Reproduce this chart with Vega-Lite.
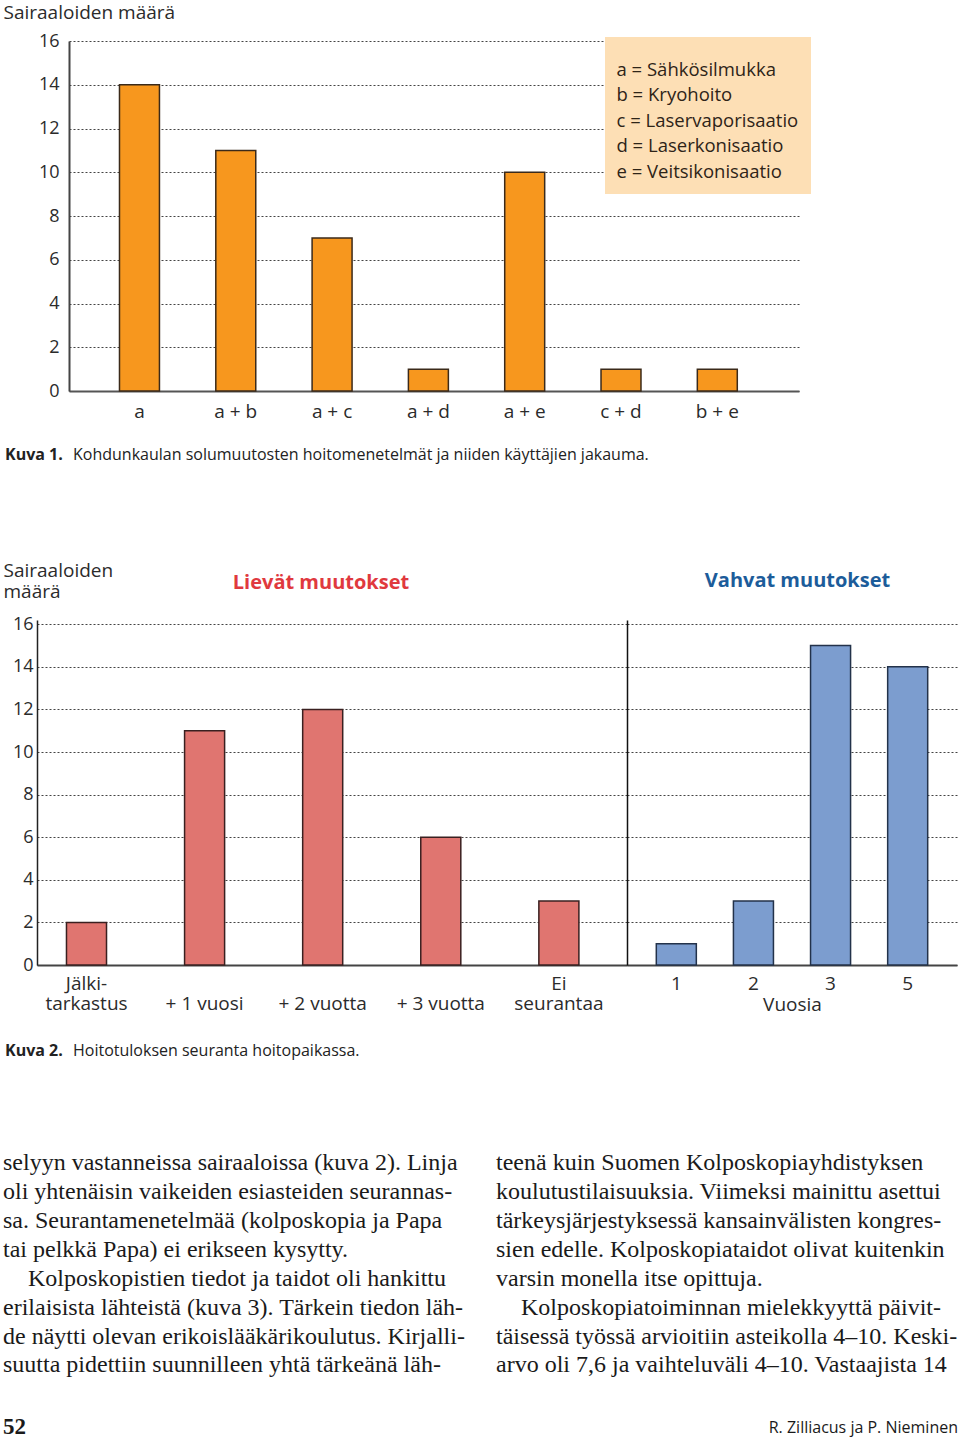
{
  "$schema": "https://vega.github.io/schema/vega-lite/v6.json",
  "background": "white",
  "padding": {"left": 3, "top": 3, "right": 0, "bottom": 0},
  "spacing": 0,
  "columns": 1,
  "config": {
    "view": {"stroke": null},
    "font": "Open Sans",
    "axis": {
      "labelFont": "Open Sans", "titleFont": "Open Sans",
      "labelColor": "#2b2b2b", "titleColor": "#2b2b2b",
      "titleFontWeight": "normal", "ticks": false,
      "labelFontSize": 19, "titleFontSize": 19,
      "gridColor": "#444", "gridDash": [2, 2], "gridWidth": 1, "gridOpacity": 1,
      "domainColor": "#444", "domainWidth": 2
    }
  },
  "concat": [
    {
      "bounds": "flush",
      "spacing": 0,
      "hconcat": [
        {"width": 66, "height": 10, "data": {"values": []}, "mark": "point"},
        {
          "width": 730, "height": 350,
          "layer": [
            {
              "data": {"values": [
                {"hoito": "a", "maara": 14},
                {"hoito": "a + b", "maara": 11},
                {"hoito": "a + c", "maara": 7},
                {"hoito": "a + d", "maara": 1},
                {"hoito": "a + e", "maara": 10},
                {"hoito": "c + d", "maara": 1},
                {"hoito": "b + e", "maara": 1}
              ]},
              "mark": {"type": "bar", "fill": "#f7971e", "stroke": "#3b2a1a", "strokeWidth": 1.5},
              "encoding": {
                "x": {"field": "hoito", "type": "nominal", "sort": null,
                  "scale": {"paddingInner": 0.585, "paddingOuter": 0.5825, "align": 0.45},
                  "axis": {"title": null, "labelAngle": 0, "labelPadding": 11, "domainColor": "#555"}},
                "y": {"field": "maara", "type": "quantitative",
                  "scale": {"domain": [0, 16], "nice": false},
                  "axis": {"title": "Sairaaloiden määrä", "titleAngle": 0, "titleAlign": "left", "titleBaseline": "top",
                    "titleX": -66, "titleY": -37.5, "titleFontSize": 19,
                    "values": [0, 2, 4, 6, 8, 10, 12, 14, 16], "grid": true, "labelPadding": 10, "labelFontSize": 18}}
              }
            },
            {
              "data": {"values": [
                {"selite": "a = Sähkösilmukka"},
                {"selite": "b = Kryohoito"},
                {"selite": "c = Laservaporisaatio"},
                {"selite": "d = Laserkonisaatio"},
                {"selite": "e = Veitsikonisaatio"}
              ]},
              "mark": {"type": "point", "opacity": 0},
              "encoding": {
                "color": {"field": "selite", "type": "nominal", "sort": null,
                  "legend": {"orient": "none", "legendX": 602, "legendY": -4, "title": " ",
                    "titleFontSize": 11.5, "titlePadding": 0, "fillColor": "#fddfb5", "padding": 12,
                    "symbolOpacity": 0, "symbolSize": 1, "symbolStrokeWidth": 0, "labelOffset": -19,
                    "labelFont": "Open Sans", "labelFontSize": 18.5, "labelColor": "#2e2418",
                    "rowPadding": 6.5, "labelLimit": 300}}
              }
            }
          ]
        }
      ]
    },
    {
      "width": 955, "height": 140,
      "data": {"values": [{"kuva": "Kuva 1.", "teksti": "Kohdunkaulan solumuutosten hoitomenetelmät ja niiden käyttäjien jakauma."}]},
      "encoding": {"x": {"field": "kuva", "type": "nominal", "axis": null, "bandPosition": 0,
        "scale": {"type": "band", "paddingInner": 0, "paddingOuter": 0}}},
      "layer": [
        {"mark": {"type": "text", "align": "left", "font": "Open Sans", "fontSize": 16, "fontWeight": "bold", "color": "#222", "dx": 2, "dy": -36},
         "encoding": {"text": {"field": "kuva"}}},
        {"mark": {"type": "text", "align": "left", "font": "Open Sans", "fontSize": 16, "color": "#222", "dx": 70, "dy": -36},
         "encoding": {"text": {"field": "teksti"}}}
      ]
    },
    {
      "bounds": "flush",
      "spacing": 0,
      "hconcat": [
        {"width": 34, "height": 10, "data": {"values": []}, "mark": "point"},
        {
          "width": 590, "height": 345,
          "title": {"text": "Lievät muutokset", "color": "#e0393e", "fontSize": 20, "fontWeight": "bold",
            "font": "Open Sans", "anchor": "middle", "frame": "group", "baseline": "alphabetic", "offset": -48, "dx": -11},
          "data": {"values": [
            {"seuranta": "Jälki-\ntarkastus", "maara": 2},
            {"seuranta": "+ 1 vuosi", "maara": 11},
            {"seuranta": "+ 2 vuotta", "maara": 12},
            {"seuranta": "+ 3 vuotta", "maara": 6},
            {"seuranta": "Ei\nseurantaa", "maara": 3}
          ]},
          "mark": {"type": "bar", "fill": "#e07570", "stroke": "#3a2020", "strokeWidth": 1.5},
          "encoding": {
            "x": {"field": "seuranta", "type": "nominal", "sort": null,
              "scale": {"paddingInner": 0.661, "paddingOuter": 0.3285, "align": 0.38},
              "axis": {"title": null, "labelAngle": 0, "labelBaseline": "top", "labelPadding": 9,
                "labelExpr": "indexof(datum.label, '\\n') >= 0 ? split(datum.label, '\\n') : ['', datum.label]",
                "labelLineHeight": 20, "domainColor": "#444"}},
            "y": {"field": "maara", "type": "quantitative",
              "scale": {"domain": [0, 16.2], "nice": false},
              "axis": {"title": ["Sairaaloiden", "määrä"], "titleAngle": 0, "titleAlign": "left", "titleBaseline": "top",
                "titleX": -34, "titleY": -59, "titleLineHeight": 21,
                "values": [0, 2, 4, 6, 8, 10, 12, 14, 16], "grid": true, "labelPadding": 4, "labelFontSize": 18,
                "domainColor": "#222", "domainWidth": 1.5}}
          }
        },
        {
          "width": 330, "height": 345,
          "title": {"text": "Vahvat muutokset", "color": "#1c5c9a", "fontSize": 20, "fontWeight": "bold",
            "font": "Open Sans", "anchor": "middle", "frame": "group", "baseline": "alphabetic", "offset": 13, "dx": 5.5},
          "data": {"values": [
            {"vuosia": "1", "maara": 1},
            {"vuosia": "2", "maara": 3},
            {"vuosia": "3", "maara": 15},
            {"vuosia": "5", "maara": 14}
          ]},
          "mark": {"type": "bar", "fill": "#7c9dcf", "stroke": "#23324a", "strokeWidth": 1.5},
          "encoding": {
            "x": {"field": "vuosia", "type": "ordinal", "sort": null,
              "scale": {"paddingInner": 0.481, "paddingOuter": 0.38},
              "axis": {"title": "Vuosia", "labelAngle": 0, "labelPadding": 9, "titlePadding": 2, "domainColor": "#444"}},
            "y": {"field": "maara", "type": "quantitative",
              "scale": {"domain": [0, 16.2], "nice": false},
              "axis": {"title": null, "labels": false, "values": [0, 2, 4, 6, 8, 10, 12, 14, 16], "grid": true,
                "domainColor": "#111", "domainWidth": 1.5}}
          }
        }
      ]
    },
    {
      "width": 955, "height": 135,
      "data": {"values": [{"kuva": "Kuva 2.", "teksti": "Hoitotuloksen seuranta hoitopaikassa."}]},
      "encoding": {"x": {"field": "kuva", "type": "nominal", "axis": null, "bandPosition": 0,
        "scale": {"type": "band", "paddingInner": 0, "paddingOuter": 0}}},
      "layer": [
        {"mark": {"type": "text", "align": "left", "font": "Open Sans", "fontSize": 16, "fontWeight": "bold", "color": "#222", "dx": 2, "dy": -30.5},
         "encoding": {"text": {"field": "kuva"}}},
        {"mark": {"type": "text", "align": "left", "font": "Open Sans", "fontSize": 16, "color": "#222", "dx": 70, "dy": -30.5},
         "encoding": {"text": {"field": "teksti"}}}
      ]
    },
    {
      "width": 955, "height": 288.6,
      "encoding": {
        "x": {"field": "palsta", "type": "ordinal", "axis": null, "bandPosition": 0,
          "scale": {"type": "band", "domain": [1, 2], "paddingInner": 0.063, "paddingOuter": 0}},
        "y": {"field": "rivi", "type": "ordinal", "axis": null,
          "scale": {"domain": [1, 2, 3, 4, 5, 6, 7, 8, 9, 10]}}
      },
      "layer": [
        {
          "data": {"name": "leipateksti", "values": [
            {"palsta": 1, "rivi": 1, "kappaleenAlku": false, "teksti": "selyyn vastanneissa sairaaloissa (kuva 2). Linja"},
            {"palsta": 1, "rivi": 2, "kappaleenAlku": false, "teksti": "oli yhtenäisin vaikeiden esiasteiden seurannas-"},
            {"palsta": 1, "rivi": 3, "kappaleenAlku": false, "teksti": "sa. Seurantamenetelmää (kolposkopia ja Papa"},
            {"palsta": 1, "rivi": 4, "kappaleenAlku": false, "teksti": "tai pelkkä Papa) ei erikseen kysytty."},
            {"palsta": 1, "rivi": 5, "kappaleenAlku": true, "teksti": "Kolposkopistien tiedot ja taidot oli hankittu"},
            {"palsta": 1, "rivi": 6, "kappaleenAlku": false, "teksti": "erilaisista lähteistä (kuva 3). Tärkein tiedon läh-"},
            {"palsta": 1, "rivi": 7, "kappaleenAlku": false, "teksti": "de näytti olevan erikoislääkärikoulutus. Kirjalli-"},
            {"palsta": 1, "rivi": 8, "kappaleenAlku": false, "teksti": "suutta pidettiin suunnilleen yhtä tärkeänä läh-"},
            {"palsta": 2, "rivi": 1, "kappaleenAlku": false, "teksti": "teenä kuin Suomen Kolposkopiayhdistyksen"},
            {"palsta": 2, "rivi": 2, "kappaleenAlku": false, "teksti": "koulutustilaisuuksia. Viimeksi mainittu asettui"},
            {"palsta": 2, "rivi": 3, "kappaleenAlku": false, "teksti": "tärkeysjärjestyksessä kansainvälisten kongres-"},
            {"palsta": 2, "rivi": 4, "kappaleenAlku": false, "teksti": "sien edelle. Kolposkopiataidot olivat kuitenkin"},
            {"palsta": 2, "rivi": 5, "kappaleenAlku": false, "teksti": "varsin monella itse opittuja."},
            {"palsta": 2, "rivi": 6, "kappaleenAlku": true, "teksti": "Kolposkopiatoiminnan mielekkyyttä päivit-"},
            {"palsta": 2, "rivi": 7, "kappaleenAlku": false, "teksti": "täisessä työssä arvioitiin asteikolla 4–10. Keski-"},
            {"palsta": 2, "rivi": 8, "kappaleenAlku": false, "teksti": "arvo oli 7,6 ja vaihteluväli 4–10. Vastaajista 14"}
          ]},
          "transform": [{"filter": "!datum.kappaleenAlku"}],
          "mark": {"type": "text", "align": "left", "font": "Liberation Serif", "fontSize": 24, "color": "#1a1a1a"},
          "encoding": {"text": {"field": "teksti"}}
        },
        {
          "data": {"name": "leipateksti"},
          "transform": [{"filter": "datum.kappaleenAlku"}],
          "mark": {"type": "text", "align": "left", "font": "Liberation Serif", "fontSize": 24, "color": "#1a1a1a", "dx": 25},
          "encoding": {"text": {"field": "teksti"}}
        },
        {
          "data": {"values": [{"palsta": 1, "rivi": 10, "teksti": "52"}]},
          "mark": {"type": "text", "align": "left", "font": "Liberation Serif", "fontSize": 23, "fontWeight": "bold", "color": "#1a1a1a", "dy": 4},
          "encoding": {"text": {"field": "teksti"}}
        },
        {
          "data": {"values": [{"palsta": 2, "rivi": 10, "teksti": "R. Zilliacus ja P. Nieminen"}]},
          "mark": {"type": "text", "align": "right", "font": "Open Sans", "fontSize": 16, "color": "#1a1a1a", "dy": 5},
          "encoding": {
            "x": {"field": "palsta", "type": "ordinal", "axis": null, "bandPosition": 1,
              "scale": {"type": "band", "domain": [1, 2], "paddingInner": 0.063, "paddingOuter": 0}},
            "text": {"field": "teksti"}}
        }
      ]
    }
  ]
}
